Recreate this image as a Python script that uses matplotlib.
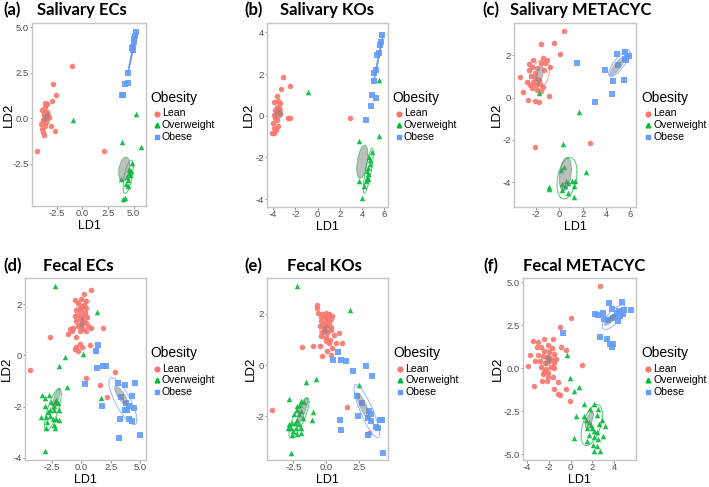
import numpy as np
import matplotlib
matplotlib.use("Agg")
import matplotlib.pyplot as plt
from matplotlib.lines import Line2D

# ---------------- data ----------------
groups = ["Lean", "Overweight", "Obese"]
colors = {"Lean": "#F8766D", "Overweight": "#00BA38", "Obese": "#619CFF"}
markers = {"Lean": "o", "Overweight": "^", "Obese": "s"}

# (a) Salivary ECs
a_lean = [(-1.05, 2.89), (-2.85, 1.90), (-2.59, 1.26), (-3.0, 0.93), (-3.67, 0.86), (-3.44, 0.81),
          (-3.9, 0.44), (-3.5, 0.35), (-3.77, 0.16), (-3.57, 0.07), (-3.34, 0.04), (-3.67, -0.02),
          (-3.84, -0.11), (-3.2, 0.07), (-4.0, -0.29), (-3.67, -0.44), (-3.05, -0.40), (-2.66, -0.70),
          (-3.9, -0.57), (-3.84, -0.75), (-3.77, -0.93), (-4.43, -1.81), (2.13, -1.79),
          (-3.6, 0.6), (-3.4, 0.2), (-3.75, 0.3), (-3.5, -0.2)]
a_over = [(-0.89, -0.07), (5.25, 0.26), (3.9, -1.28), (5.7, -1.58), (4.82, -2.45), (4.56, -2.77),
          (4.62, -3.1), (3.77, -3.31), (4.36, -3.22), (4.49, -3.37), (4.3, -3.59), (4.43, -3.72),
          (3.97, -4.41), (4.2, -4.38), (4.7, -2.9), (4.5, -3.0)]
a_obese = [(5.21, 4.74), (5.15, 4.5), (5.08, 4.35), (5.0, 4.2), (4.9, 3.9), (4.8, 3.85), (4.95, 3.75),
           (4.43, 2.49), (4.16, 1.87), (4.43, 1.96), (3.9, 1.3), (4.0, 1.28)]

# (b) Salivary KOs
b_lean = [(-3.08, 1.84), (-2.49, 1.44), (-3.29, 1.28), (-3.68, 0.94), (-3.89, 0.67), (-3.53, 0.7),
          (-3.38, 0.59), (-3.68, 0.43), (-3.47, 0.35), (-3.83, 0.27), (-3.59, 0.19), (-3.89, 0.03),
          (-3.41, 0.08), (-3.83, -0.13), (-3.68, -0.21), (-3.98, -0.37), (-3.59, -0.50), (-3.89, -0.61),
          (-3.77, -0.69), (-4.07, -0.82), (-3.89, -0.85), (-2.69, -0.11), (-2.49, -0.11), (2.9, -0.11)]
b_over = [(-0.9, 1.15), (5.5, 1.71), (5.5, -0.98), (3.71, -1.22), (4.85, -1.73), (4.7, -2.12),
          (4.73, -2.3), (4.55, -2.5), (4.4, -2.66), (4.49, -2.82), (4.43, -2.98), (4.55, -3.06),
          (4.31, -3.14), (3.74, -3.14), (4.13, -3.36), (4.01, -3.97), (4.6, -2.0)]
b_obese = [(5.81, 3.87), (5.66, 3.55), (5.6, 3.39), (5.54, 3.0), (5.36, 2.91), (5.21, 2.19),
           (5.09, 2.03), (5.03, 1.66), (4.85, 1.0), (5.24, 0.86), (4.76, 0.46), (4.37, -0.21)]

# (c) Salivary METACYC
c_lean = [(0.41, 3.17), (-1.55, 2.54), (-0.5, 2.57), (0.07, 2.07), (-2.28, 1.79), (-2.62, 1.6),
          (-2.34, 1.47), (-2.57, 1.31), (-1.91, 1.39), (-1.43, 1.86), (-1.06, 1.79), (-1.21, 1.63),
          (-1.55, 1.63), (-1.35, 1.31), (-0.78, 1.47), (-2.11, 1.15), (-2.4, 1.03), (-2.06, 0.92),
          (-1.77, 0.84), (-2.28, 0.76), (-2.77, 0.76), (-2.48, 0.6), (-2.0, 0.6), (-1.63, 0.65),
          (-1.43, 0.52), (-2.34, 0.44), (-1.91, 0.36), (-1.55, 0.33), (-3.13, 0.28), (-3.33, 1.0),
          (-0.92, 0.08), (-2.68, -0.11), (-2.11, -0.16), (-1.77, -0.19), (-2.11, -2.35), (2.6, -2.16)]
c_over = [(-1.77, 0.24), (1.63, -0.69), (0.3, -2.2), (2.26, -3.54), (0.35, -3.27), (0.16, -3.43),
          (-0.92, -4.22), (-0.92, -4.33), (0.21, -4.11), (0.55, -3.95), (0.72, -4.06), (1.06, -3.97),
          (1.29, -3.95), (0.5, -4.17), (0.21, -4.38), (1.23, -4.19), (0.72, -4.53), (1.23, -4.69)]
c_obese = [(1.49, 1.63), (4.89, 2.07), (5.55, 2.15), (5.77, 1.99), (5.55, 1.83), (5.94, 1.97),
           (5.69, 1.79), (3.84, 1.31), (4.98, 1.55), (4.52, 0.81), (5.46, 0.84), (4.47, 0.19),
           (3.05, -0.22)]

# (d) Fecal ECs
d_lean = [(0.85, 2.58), (0.23, 2.4), (-0.57, 2.18), (0.0, 2.22), (0.42, 2.12), (-0.28, 2.05),
          (0.2, 1.99), (0.08, 1.92), (-0.14, 1.86), (0.37, 1.86), (-0.42, 1.79), (0.0, 1.73),
          (0.28, 1.67), (-0.28, 1.6), (-0.57, 1.54), (0.08, 1.54), (0.48, 1.5), (-0.14, 1.41),
          (0.2, 1.35), (-0.42, 1.35), (0.0, 1.22), (0.42, 1.28), (0.57, 1.15), (-0.28, 1.15),
          (-0.71, 1.09), (0.14, 1.03), (-0.08, 0.96), (-0.99, 1.03), (-0.76, 0.94), (-1.13, 0.83),
          (0.85, 1.09), (0.37, 0.96), (1.84, 1.06), (-2.69, 0.71), (-0.42, 0.73), (-0.14, 0.45),
          (-0.42, 0.32), (-0.57, 0.26), (-0.28, 0.19), (0.08, 0.35), (0.71, 0.42), (1.19, 0.19),
          (-4.39, -0.55), (0.4, -0.9), (1.59, -1.15), (2.15, -1.64), (2.86, -0.64)]
d_over = [(-2.24, 2.73), (1.33, 1.69), (0.14, 0.06), (-1.42, -0.06), (-1.9, -0.42), (-1.19, -1.22),
          (1.64, -1.67), (-3.31, -1.54), (-2.75, -1.54), (-3.09, -1.67), (-2.55, -1.83), (-2.27, -1.83),
          (-1.98, -1.86), (-2.12, -1.73), (-3.12, -1.96), (-2.35, -1.99), (-2.63, -2.12), (-1.9, -2.12),
          (-2.83, -2.22), (-2.35, -2.14), (-3.4, -2.4), (-3.03, -2.4), (-2.69, -2.37), (-2.41, -2.5),
          (-2.12, -2.5), (-2.92, -2.6), (-1.9, -2.53), (-2.35, -2.73), (-2.97, -2.82), (-2.27, -2.82),
          (-3.06, -3.72)]
d_obese = [(1.42, 0.41), (1.22, 0.19), (0.28, -1.13), (1.33, -0.51), (1.84, -0.42), (2.07, -0.4),
           (3.14, -1.06), (3.68, -1.15), (4.53, -1.06), (4.33, -1.58), (3.4, -1.63), (3.82, -1.86),
           (4.05, -1.99), (4.48, -2.05), (3.68, -2.12), (3.91, -2.12), (3.26, -2.5), (4.05, -2.47),
           (4.33, -2.56), (1.73, -1.96), (4.96, -3.12), (3.17, -3.21)]

# (e) Fecal KOs
e_lean = [(-0.73, 2.34), (-0.68, 2.21), (-0.61, 2.01), (-0.3, 1.97), (-0.05, 2.01), (0.2, 1.97),
          (0.45, 1.92), (-0.43, 1.88), (-0.13, 1.85), (0.08, 1.82), (0.33, 1.79), (-0.38, 1.72),
          (-0.05, 1.69), (0.2, 1.66), (-0.23, 1.56), (0.03, 1.54), (-0.48, 1.5), (0.33, 1.46),
          (-0.18, 1.41), (-0.3, 1.3), (0.08, 1.3), (0.33, 1.37), (-0.38, 1.11), (-0.05, 1.07),
          (0.58, 1.17), (0.28, 0.98), (-0.05, 0.92), (0.2, 0.85), (0.71, 0.85), (0.96, 1.24),
          (1.21, 0.85), (-1.82, 0.7), (-1.01, 0.75), (-0.48, 0.72), (0.45, 0.68), (-0.3, 0.34),
          (0.33, 0.4), (0.08, 0.55), (1.59, -1.64), (-4.09, -1.73), (3.26, -2.63)]
e_over = [(-2.25, 3.08), (1.79, 2.14), (-0.81, -0.53), (-1.52, -0.67), (2.47, -0.76), (-2.83, -1.32),
          (-1.01, -1.82), (-1.11, -2.15), (-1.89, -1.38), (-1.69, -1.43), (-2.2, -1.6), (-1.99, -1.54),
          (-2.25, -1.73), (-1.89, -1.79), (-2.07, -1.92), (-2.45, -1.92), (-1.74, -2.05), (-2.2, -2.12),
          (-2.58, -2.25), (-2.4, -2.25), (-2.83, -2.28), (-2.07, -2.31), (-2.7, -2.44), (-2.32, -2.46),
          (-1.94, -2.44), (-2.9, -2.46), (-2.5, -2.57), (-2.2, -2.67), (-2.58, -2.7), (-1.94, -2.63),
          (-2.7, -3.41)]
e_obese = [(0.88, 0.5), (0.53, 0.21), (1.09, 0.21), (1.49, 0.17), (2.05, -0.25), (2.98, -0.05),
           (3.48, -0.44), (2.35, -1.21), (2.73, -1.47), (2.42, -1.99), (3.23, -1.79), (3.36, -1.92),
           (3.16, -2.05), (3.41, -2.18), (4.07, -2.15), (4.24, -2.12), (3.74, -2.41), (3.91, -2.46),
           (3.16, -2.72), (1.04, -2.15), (1.09, -2.54), (4.32, -3.41)]

# (f) Fecal METACYC
f_lean = [(2.7, 4.81), (0.03, 2.93), (-0.95, 2.39), (-3.5, 1.59), (-3.04, 1.53), (-2.42, 1.69),
          (-1.66, 1.72), (-3.1, 1.25), (-2.73, 1.21), (-2.06, 1.36), (-1.75, 1.17), (-0.89, 1.25),
          (-0.43, 1.09), (-2.42, 0.98), (-1.96, 0.92), (-1.5, 0.82), (-3.71, 0.79), (-3.04, 0.79),
          (-2.58, 0.73), (-2.18, 0.63), (-1.81, 0.54), (-1.35, 0.54), (-3.28, 0.4), (-2.79, 0.4),
          (-2.36, 0.29), (-1.96, 0.4), (-1.56, 0.29), (-3.9, 0.15), (-2.73, 0.06), (-2.27, -0.04),
          (-1.81, 0.1), (-1.5, 0.02), (1.01, 0.21), (-2.42, -0.23), (-2.06, -0.29), (-2.58, -0.33),
          (-2.12, -0.48), (-1.66, -0.52), (-2.67, -0.71), (-2.18, -0.75), (-1.13, -0.8), (-3.34, -1.05),
          (-1.56, -1.19), (-0.43, -1.19), (-1.2, -1.51), (-0.95, -1.57), (-0.03, -1.9)]
f_over = [(-0.34, 0.79), (-0.03, -0.56), (0.8, -1.09), (0.28, -1.34), (0.34, -4.06), (1.26, -2.09),
          (2.18, -2.09), (1.78, -2.39), (2.55, -2.39), (0.49, -2.78), (1.2, -2.78), (2.42, -2.72),
          (1.41, -3.01), (1.72, -3.1), (2.85, -3.01), (1.87, -3.3), (2.58, -3.24), (3.16, -3.35),
          (1.5, -3.49), (1.93, -3.49), (2.12, -3.62), (2.42, -3.68), (1.72, -3.87), (2.18, -3.97),
          (2.55, -4.12), (2.94, -3.93), (1.5, -4.25), (2.02, -4.44), (2.42, -4.54), (2.12, -4.83),
          (2.73, -4.83)]
f_obese = [(3.56, 3.79), (4.72, 3.85), (2.24, 3.16), (2.55, 3.08), (2.94, 3.22), (3.77, 3.47),
           (4.48, 3.31), (4.79, 3.16), (4.26, 3.22), (4.08, 2.97), (4.57, 3.03), (3.1, 2.84),
           (3.47, 2.78), (3.87, 2.93), (4.39, 2.74), (4.88, 3.41), (5.55, 3.41), (-0.74, 2.05),
           (2.7, 1.82), (3.34, 1.69), (3.65, 1.4), (3.87, 1.4), (3.77, 1.25)]

# ellipse summaries per group: (centre x, centre y, half-extent x, half-extent y, correlation)
a_fill = {"Lean": (-3.5, 0.07, 0.33, 0.27, 0.5), "Overweight": (4.08, -2.8, 0.54, 0.67, 0.3),
          "Obese": (4.85, 3.6, 0.43, 1.14, 0.99)}
a_line = {"Lean": (-3.5, 0.1, 0.36, 0.34, 0.6), "Overweight": (4.46, -3.22, 0.49, 0.92, 0.6),
          "Obese": (4.85, 3.6, 0.45, 1.16, 0.995)}
b_fill = {"Lean": (-3.53, 0.11, 0.36, 0.24, 0.3), "Overweight": (4.01, -2.21, 0.5, 0.8, 0.4),
          "Obese": (5.45, 2.75, 0.42, 1.12, 0.99)}
b_line = {"Lean": (-3.53, 0.11, 0.38, 0.28, 0.3), "Overweight": (4.55, -2.64, 0.45, 1.09, 0.8),
          "Obese": (5.45, 2.75, 0.44, 1.14, 0.995)}
c_fill = {"Lean": (-1.72, 1.07, 0.34, 0.47, 0.5), "Overweight": (0.5, -3.62, 0.51, 0.79, 0.3),
          "Obese": (4.89, 1.47, 0.62, 0.44, 0.85)}
c_line = {"Lean": (-1.72, 1.07, 0.85, 0.71, 0.3), "Overweight": (0.64, -3.82, 0.85, 0.98, 0.3),
          "Obese": (5.1, 1.63, 0.91, 0.63, 0.8)}
d_fill = {"Lean": (0.08, 1.28, 0.2, 0.25, 0.3), "Overweight": (-2.15, -1.72, 0.34, 0.42, 0.8),
          "Obese": (3.4, -1.58, 0.57, 0.38, -0.8)}
d_line = {"Lean": (0.0, 1.6, 0.5, 0.58, 0.2), "Overweight": (-2.41, -2.12, 0.71, 0.83, 0.75),
          "Obese": (3.54, -1.79, 1.19, 0.92, -0.8)}
e_fill = {"Lean": (-0.05, 1.37, 0.25, 0.19, 0.3), "Overweight": (-1.82, -1.79, 0.43, 0.52, 0.85),
          "Obese": (2.8, -1.6, 0.5, 0.52, -0.85)}
e_line = {"Lean": (-0.05, 1.4, 0.45, 0.39, 0.3), "Overweight": (-2.07, -2.05, 0.76, 0.77, 0.8),
          "Obese": (3.06, -1.79, 0.96, 1.03, -0.85)}
f_fill = {"Lean": (-2.06, 0.48, 0.31, 0.34, 0.3), "Overweight": (1.72, -3.0, 0.37, 0.48, 0.7),
          "Obese": (3.65, 2.84, 0.55, 0.34, 0.8)}
f_line = {"Lean": (-2.06, 0.48, 0.67, 0.67, 0.3), "Overweight": (1.93, -3.3, 0.98, 1.19, 0.5),
          "Obese": (3.96, 2.97, 1.07, 0.71, 0.75)}

titles = ["Salivary ECs", "Salivary KOs", "Salivary METACYC", "Fecal ECs", "Fecal KOs", "Fecal METACYC"]
tags = ["(a)", "(b)", "(c)", "(d)", "(e)", "(f)"]
xticks = [[-2.5, 0, 2.5, 5], [-4, -2, 0, 2, 4, 6], [-2, 0, 2, 4, 6],
          [-2.5, 0, 2.5, 5], [-2.5, 0, 2.5], [-4, -2, 0, 2, 4]]
yticks = [[-2.5, 0, 2.5, 5], [-4, -2, 0, 2, 4], [-4, -2, 0, 2],
          [-4, -2, 0, 2], [-2, 0, 2], [-5, -2.5, 0, 2.5, 5]]
xlims = [(-4.9, 6.2), (-4.56, 6.32), (-3.87, 6.51), (-4.78, 5.5), (-4.49, 4.67), (-4.39, 6.0)]
ylims = [(-4.82, 5.24), (-4.38, 4.45), (-5.18, 3.54), (-4.09, 3.03), (-3.69, 3.38), (-5.33, 5.25)]

panels = [(a_lean, a_over, a_obese, a_fill, a_line),
          (b_lean, b_over, b_obese, b_fill, b_line),
          (c_lean, c_over, c_obese, c_fill, c_line),
          (d_lean, d_over, d_obese, d_fill, d_line),
          (e_lean, e_over, e_obese, e_fill, e_line),
          (f_lean, f_over, f_obese, f_fill, f_line)]

# ---------------- layout (pixels) ----------------
W, H = 709, 487
boxes = [(32, 146, 23, 206), (267, 388, 23, 207), (514, 636, 23, 207),
         (25, 146, 278, 460), (267, 388, 278, 460), (523, 636, 278, 460)]
tag_pos = [(3, 37, 10), (244, 280, 10), (482, 510, 10),
           (3, 43, 266), (244, 287, 266), (483, 523, 266)]
legend_pos = [(150, 98), (392, 98), (641, 98), (150, 353), (393, 353), (641, 353)]
ld2_x = [9, 249, 497, 7, 251, 498]

plt.rcParams['font.family'] = ['Liberation Sans', 'DejaVu Sans']
fig = plt.figure(figsize=(W / 100, H / 100), dpi=100)
fig.patch.set_facecolor("white")


def fx(px):
    return px / W


def fy(py):
    return 1 - py / H


def ellipse_xy(p):
    cx, cy, ex, ey, r = p
    t = np.linspace(0, 2 * np.pi, 200)
    x = cx + ex * np.cos(t)
    y = cy + ey * (r * np.cos(t) + np.sqrt(1 - r * r) * np.sin(t))
    return x, y


def fmt(v, ticks):
    if any(abs(t - round(t)) > 1e-9 for t in ticks):
        return "%.1f" % v
    return "%d" % v


for i, (lean, over, obese, fill, line) in enumerate(panels):
    l, r, t, b = boxes[i]
    ax = fig.add_axes([fx(l), fy(b), fx(r) - fx(l), fy(t) - fy(b)])
    for g, pts in zip(groups, [lean, over, obese]):
        arr = np.array(pts)
        ax.scatter(arr[:, 0], arr[:, 1], s=16, marker=markers[g], color=colors[g],
                   linewidths=0, alpha=0.9, zorder=3)
    for g in groups:
        x, y = ellipse_xy(line[g])
        ax.plot(x, y, color=colors[g], lw=0.7, alpha=0.7, zorder=4)
        x, y = ellipse_xy(fill[g])
        ax.fill(x, y, color="#7f7f7f", alpha=0.5, lw=0, zorder=5)
        ax.plot(x, y, color=colors[g], lw=0.6, alpha=0.6, zorder=5)
    ax.set_xlim(*xlims[i])
    ax.set_ylim(*ylims[i])
    ax.set_xticks(xticks[i])
    ax.set_xticklabels([fmt(v, xticks[i]) for v in xticks[i]])
    ax.set_yticks(yticks[i])
    ax.set_yticklabels([fmt(v, yticks[i]) for v in yticks[i]])
    ax.tick_params(length=1.8, width=0.6, color="#7f7f7f", labelcolor="#4D4D4D",
                   labelsize=6.8, pad=0.5)
    for sp in ax.spines.values():
        sp.set_color("#C4C4C4")
        sp.set_linewidth(1.0)

    # axis titles
    fig.text(fx((l + r) / 2), fy(b + 13.6), "LD1", fontsize=9, ha="center", va="top")
    fig.text(fx(ld2_x[i]), fy((t + b) / 2), "LD2", fontsize=9.5, ha="center", va="center",
             rotation=90)

    # panel titles
    tx, ttx, ty = tag_pos[i]
    fig.text(fx(tx), fy(ty), tags[i], fontsize=12, fontweight="bold", family="Lato",
             ha="left", va="center")
    fig.text(fx(ttx), fy(ty), titles[i], fontsize=12, fontweight="bold", family="Lato",
             ha="left", va="center")

    # legend
    lx, ly = legend_pos[i]
    fig.text(fx(lx), fy(ly), "Obesity", fontsize=10, ha="left", va="center")
    for k, g in enumerate(groups):
        yy = ly + 15.5 + k * 11.8
        fig.add_artist(Line2D([fx(lx + 7)], [fy(yy)], marker=markers[g], color=colors[g],
                              markersize=3.4, linestyle="none", transform=fig.transFigure))
        fig.text(fx(lx + 12), fy(yy), g, fontsize=7.6, ha="left", va="center")

fig.savefig("out.png", dpi=100, facecolor="white")
